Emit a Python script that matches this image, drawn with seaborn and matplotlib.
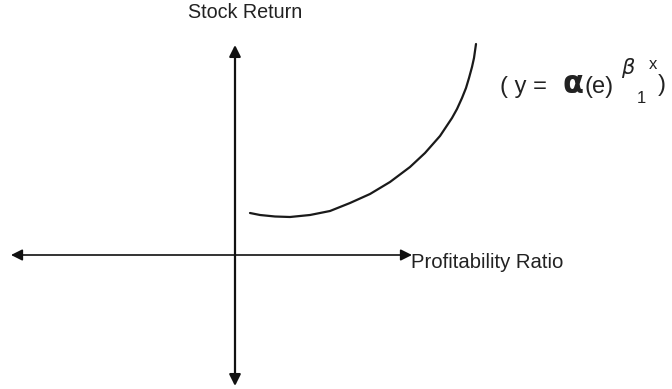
import numpy as np
import pandas as pd
import matplotlib.pyplot as plt
import seaborn as sns

# curve (origin = where the two axes cross)
curve_x = [15, 25, 40, 55, 75, 95, 115, 135, 155, 175, 190, 205, 217, 222, 227, 231, 234, 237, 239, 241]
curve_y = [42, 40, 38.5, 38, 40, 44, 52, 61, 73, 88, 102, 119, 137, 146, 157, 167, 177, 188, 197, 211]

x_label = "Profitability Ratio"
y_label = "Stock Return"

sns.set_style("white")
plt.rcParams['font.family'] = ['Liberation Sans', 'DejaVu Sans']

fig = plt.figure(figsize=(6.72, 3.89), dpi=100)
ax = fig.add_axes([0, 0, 1, 1])
ax.set_xlim(-235, 437)
ax.set_ylim(-134, 255)
ax.axis('off')

df = pd.DataFrame({'x': curve_x, 'y': curve_y})
sns.lineplot(data=df, x='x', y='y', sort=False, color='#1a1a1a', lw=1.6, ax=ax)

# axes with arrow heads
def arrow(end, lw):
    ax.annotate("", xy=end, xytext=(0, 0),
                arrowprops=dict(arrowstyle='-|>', lw=lw, color='#111111',
                                mutation_scale=17, shrinkA=0, shrinkB=0))

arrow((0, 210), 1.6)
arrow((0, -131), 1.6)
arrow((-224, 0), 1.2)
arrow((177, 0), 1.2)

txt = '#222222'
ax.text(10, 243, y_label, fontsize=14.2, ha='center', va='center', color=txt)
ax.text(176, -7, x_label, fontsize=14.6, ha='left', va='center', color=txt)

# formula
fs = 17
ax.text(265, 162, "( y = ", fontsize=fs, ha='left', va='baseline', color=txt)
ax.text(328, 162, "α", fontsize=22, ha='left', va='baseline', color=txt,
        family=['DejaVu Sans'], fontweight='bold')
ax.text(349, 162, "(e)", fontsize=fs, ha='left', va='baseline', color=txt)
ax.text(386, 181, "β", fontsize=15, ha='left', va='baseline', color=txt,
        family=['DejaVu Sans'], style='italic')
ax.text(402, 152, "1", fontsize=12, ha='left', va='baseline', color=txt)
ax.text(414, 186, "x", fontsize=12, ha='left', va='baseline', color=txt)
ax.text(423, 164, ")", fontsize=fs, ha='left', va='baseline', color=txt)

fig.savefig("out.png", dpi=100)
